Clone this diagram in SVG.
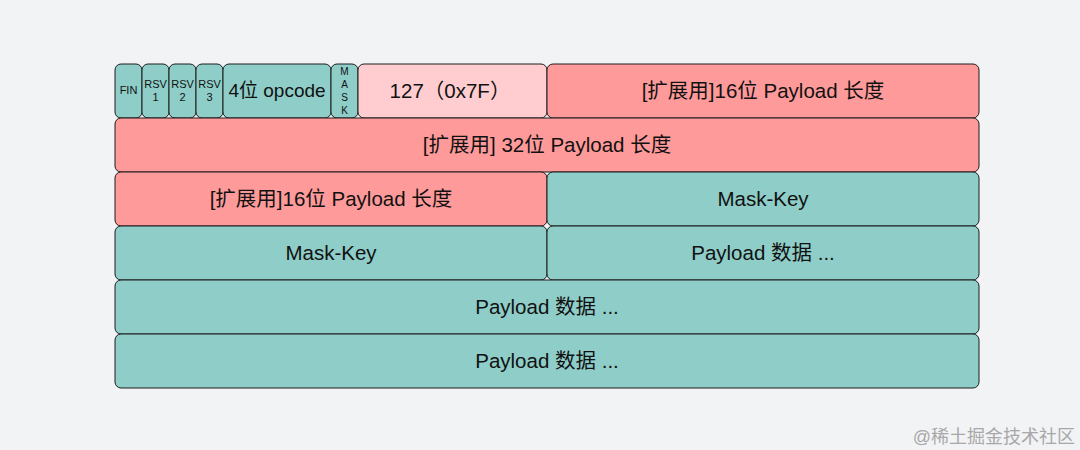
<svg xmlns="http://www.w3.org/2000/svg" width="1080" height="450" viewBox="0 0 1080 450">
<style>
.t{fill:#8ecdc8;stroke:#1c1c1c;stroke-width:1}
.p{fill:#ff9a9a;stroke:#1c1c1c;stroke-width:1}
.lp{fill:#ffcdcf;stroke:#1c1c1c;stroke-width:1}
text{font-family:"Liberation Sans","Noto Sans CJK SC",sans-serif;fill:#111;text-anchor:middle}
.l{font-size:20.5px}
.o{font-size:19px}
.s{font-size:11px}
.m{font-size:10px}
</style>
<rect width="1080" height="450" fill="#f2f3f5"/>
<g id="fin"><rect class="t" x="115" y="64" width="27" height="54" rx="6"/><text class="s" x="128.5" y="94">FIN</text></g>
<g id="rsv1"><rect class="t" x="142" y="64" width="27" height="54" rx="6"/><text class="s" x="155.5" y="88">RSV</text><text class="s" x="155.5" y="101">1</text></g>
<g id="rsv2"><rect class="t" x="169" y="64" width="27" height="54" rx="6"/><text class="s" x="182.5" y="88">RSV</text><text class="s" x="182.5" y="101">2</text></g>
<g id="rsv3"><rect class="t" x="196" y="64" width="27" height="54" rx="6"/><text class="s" x="209.5" y="88">RSV</text><text class="s" x="209.5" y="101">3</text></g>
<g id="opcode"><rect class="t" x="223" y="64" width="108" height="54" rx="6"/><text class="o" x="277" y="97">4位 opcode</text></g>
<g id="mask"><rect class="t" x="331" y="64" width="27" height="54" rx="6"/><text class="m" x="344.5" y="75">M</text><text class="m" x="344.5" y="88">A</text><text class="m" x="344.5" y="101">S</text><text class="m" x="344.5" y="114">K</text></g>
<g id="len7"><rect class="lp" x="358" y="64" width="189" height="54" rx="6"/><text class="l" x="450" y="98">127（0x7F）</text></g>
<g id="ext16a"><rect class="p" x="547" y="64" width="432" height="54" rx="6"/><text class="l" x="763" y="98">[扩展用]16位 Payload 长度</text></g>
<g id="ext32"><rect class="p" x="115" y="118" width="864" height="54" rx="6"/><text class="l" x="547" y="152">[扩展用] 32位 Payload 长度</text></g>
<g id="ext16b"><rect class="p" x="115" y="172" width="432" height="54" rx="6"/><text class="l" x="331" y="206">[扩展用]16位 Payload 长度</text></g>
<g id="maskkey1"><rect class="t" x="547" y="172" width="432" height="54" rx="6"/><text class="l" x="763" y="206">Mask-Key</text></g>
<g id="maskkey2"><rect class="t" x="115" y="226" width="432" height="54" rx="6"/><text class="l" x="331" y="260">Mask-Key</text></g>
<g id="data1"><rect class="t" x="547" y="226" width="432" height="54" rx="6"/><text class="l" x="763" y="260">Payload 数据 ...</text></g>
<g id="data2"><rect class="t" x="115" y="280" width="864" height="54" rx="6"/><text class="l" x="547" y="314">Payload 数据 ...</text></g>
<g id="data3"><rect class="t" x="115" y="334" width="864" height="54" rx="6"/><text class="l" x="547" y="368">Payload 数据 ...</text></g>
<g id="connectors"></g>
<text x="1075" y="443" style="font-size:18px;fill:#a8a8a8;text-anchor:end">@稀土掘金技术社区</text>
</svg>
